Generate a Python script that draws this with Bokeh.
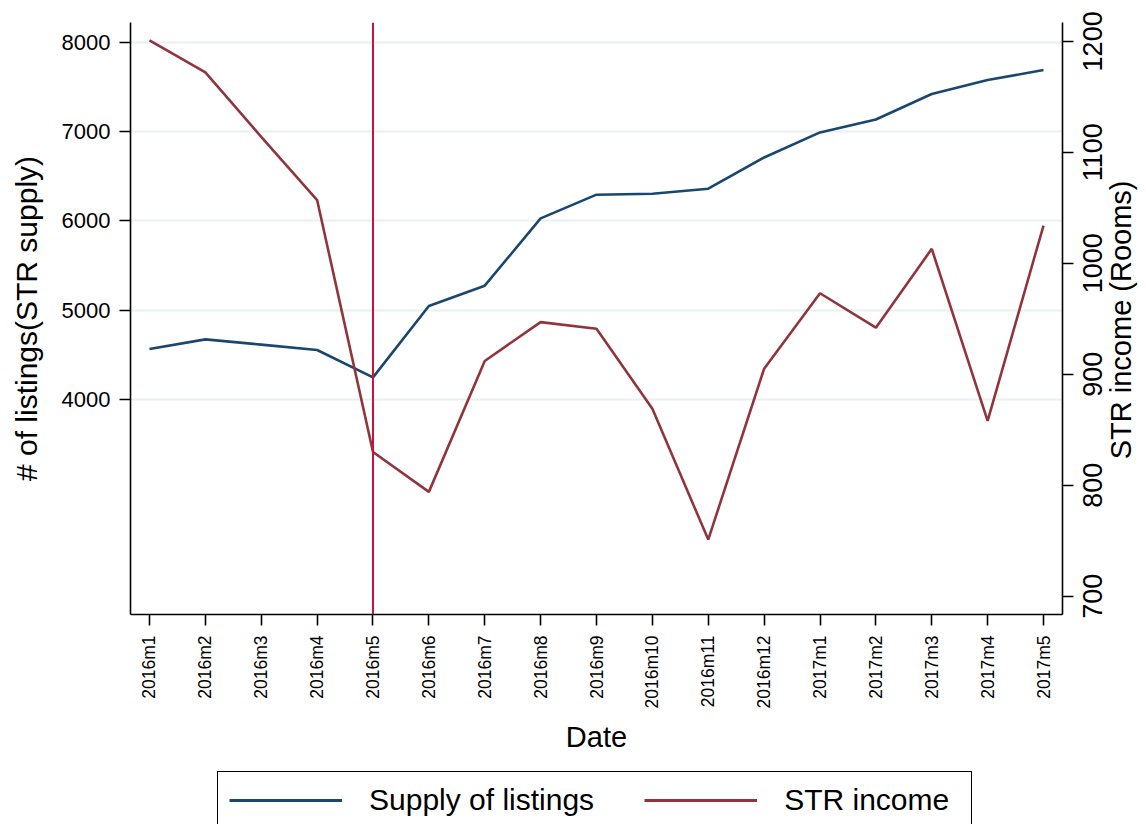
import math
from bokeh.plotting import figure
from bokeh.layouts import column, row
from bokeh.models import (Range1d, LinearAxis, FixedTicker, Span, Legend, LegendItem)
from bokeh.embed import file_html
from bokeh.resources import INLINE

months = ["2016m1", "2016m2", "2016m3", "2016m4", "2016m5", "2016m6", "2016m7",
          "2016m8", "2016m9", "2016m10", "2016m11", "2016m12", "2017m1", "2017m2",
          "2017m3", "2017m4", "2017m5"]
supply = [4565, 4672, 4613, 4553, 4246, 5046, 5274, 6028, 6294, 6305, 6361,
          6711, 6992, 7137, 7422, 7579, 7691]
income = [1201, 1172, 1114, 1057, 830, 794, 912, 947, 941, 869, 751,
          905, 973, 942, 1013, 858, 1034]
left_ticks = [4000, 5000, 6000, 7000, 8000]
right_ticks = [700, 800, 900, 1000, 1100, 1200]
event_month = "2016m5"

xs = list(range(1, len(months) + 1))
FONT = "Liberation Sans"
BLUE = "#1a476f"
RED = "#90353b"
W = 1146
H_MAIN = 762
P_W = 1080
BORDERS = dict(min_border_top=22, min_border_bottom=148)
right_range = (683.5, 1217)

p = figure(width=P_W, height=H_MAIN, output_backend="svg", toolbar_location=None,
           x_range=Range1d(0.66, len(months) + 0.34),
           y_range=Range1d(1588, 8224),
           min_border_left=130, min_border_right=P_W - 1062,
           x_axis_location=None, y_axis_location=None, **BORDERS)
p.extra_y_ranges = {"r": Range1d(*right_range)}
p.outline_line_color = None
p.background_fill_color = "white"
p.border_fill_color = "white"

def style(ax, size):
    ax.axis_line_color = "black"
    ax.axis_line_width = 1.6
    ax.major_tick_line_color = "black"
    ax.major_tick_line_width = 1.6
    ax.major_tick_out = 11
    ax.major_tick_in = 0
    ax.minor_tick_line_color = None
    ax.major_label_text_font = FONT
    ax.major_label_text_font_size = size
    ax.major_label_text_color = "black"
    ax.axis_label_text_font = FONT
    ax.axis_label_text_font_style = "normal"
    ax.axis_label_text_color = "black"

def bare(ax):
    ax.axis_line_color = None
    ax.major_tick_line_color = None
    ax.major_tick_out = 0

xaxis = LinearAxis(ticker=FixedTicker(ticks=xs),
                   major_label_overrides={x: m for x, m in zip(xs, months)},
                   axis_label="Date")
style(xaxis, "17.5px")
xaxis.major_label_orientation = math.pi / 2
xaxis.major_label_standoff = 10
xaxis.axis_label_text_font_size = "29px"
xaxis.axis_label_standoff = 10
p.add_layout(xaxis, "below")

laxis = LinearAxis(ticker=FixedTicker(ticks=left_ticks),
                   axis_label="# of listings(STR supply)")
style(laxis, "22px")
laxis.major_label_standoff = 9
laxis.axis_label_text_font_size = "30px"
laxis.axis_label_standoff = 16
p.add_layout(laxis, "left")

# right axis line and tick marks (its labels are drawn in the strip to the right)
raxis = LinearAxis(y_range_name="r", ticker=FixedTicker(ticks=right_ticks))
style(raxis, "1px")
raxis.major_label_text_color = None
raxis.major_label_standoff = 0
p.add_layout(raxis, "right")

p.xgrid.visible = False
p.ygrid.ticker = FixedTicker(ticks=left_ticks)
p.ygrid.grid_line_color = "#e9f0f2"
p.ygrid.grid_line_width = 2

p.line(xs, supply, line_color=BLUE, line_width=2.6)
p.line(xs, income, line_color=RED, line_width=2.6, y_range_name="r")

p.add_layout(Span(location=months.index(event_month) + 1, dimension="height",
                  line_color="#c8143c", line_width=2))

# strip on the right: right-axis tick labels and title, reading bottom-to-top
r = figure(width=W - P_W, height=H_MAIN, output_backend="svg", toolbar_location=None,
           x_range=Range1d(0, 1), y_range=Range1d(*right_range),
           min_border_left=0, min_border_right=0,
           x_axis_location=None, y_axis_location=None, **BORDERS)
r.outline_line_color = None
r.grid.visible = False
title_at = 949
tax = LinearAxis(ticker=FixedTicker(ticks=[title_at]),
                 major_label_overrides={title_at: "STR income (Rooms)"})
style(tax, "29px")
bare(tax)
tax.major_label_orientation = "parallel"
tax.major_label_standoff = 0
r.add_layout(tax, "left")
lab = LinearAxis(ticker=FixedTicker(ticks=right_ticks))
style(lab, "27px")
bare(lab)
lab.major_label_orientation = "parallel"
lab.major_label_standoff = 0
r.add_layout(lab, "left")

# legend strip below the chart
q = figure(width=W, height=824 - H_MAIN, output_backend="svg", toolbar_location=None,
           x_range=Range1d(0, 1), y_range=Range1d(0, 1),
           min_border_left=130, min_border_right=84, min_border_top=0,
           min_border_bottom=0, x_axis_location=None, y_axis_location=None)
q.outline_line_color = None
q.grid.visible = False
k1 = q.line([2, 3], [2, 3], line_color=BLUE, line_width=3)
k2 = q.line([2, 3], [2, 3], line_color=RED, line_width=3)
legend = Legend(items=[LegendItem(label="Supply of listings", renderers=[k1]),
                       LegendItem(label="STR income", renderers=[k2])],
                location=(87, -5), orientation="horizontal",
                padding=11, spacing=50, glyph_width=113, glyph_height=30,
                label_standoff=27, label_width=176, label_text_font=FONT,
                label_text_font_size="30px", label_text_color="black",
                border_line_color="black", border_line_width=1.5,
                border_line_alpha=1.0,
                background_fill_color="white", background_fill_alpha=1.0,
                margin=0)
q.add_layout(legend)

layout = column(row(p, r, spacing=0), q, spacing=0)
open("out.html", "w").write(file_html(layout, INLINE))
